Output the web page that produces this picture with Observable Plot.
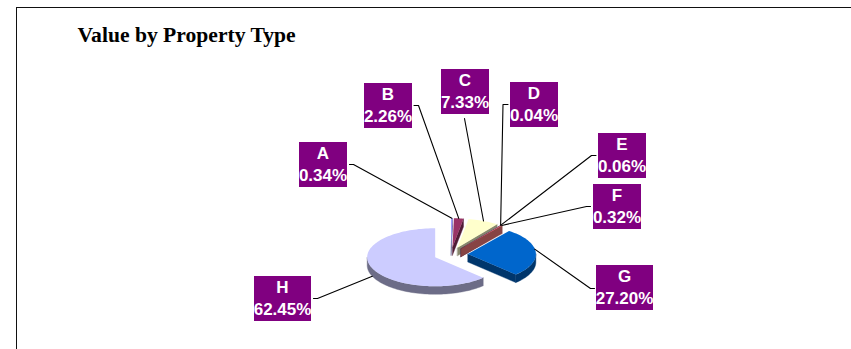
<!DOCTYPE html>
<html>
<head>
<meta charset="utf-8">
<script src="https://cdn.jsdelivr.net/npm/d3@7"></script>
<script src="https://cdn.jsdelivr.net/npm/@observablehq/plot@0.6"></script>
<style>
  html, body { margin: 0; padding: 0; background: #fff; }
  svg { display: block; }
</style>
</head>
<body>
<div id="chart"></div>
<script>
// Data
const categories = ["A", "B", "C", "D", "E", "F", "G", "H"];
const shares = [0.34, 2.26, 7.33, 0.04, 0.06, 0.32, 27.20, 62.45];
const sliceColors = ["#9999FF", "#993366", "#FFFFCC", "#CCFFFF", "#660066", "#FF8080", "#0066CC", "#CCCCFF"];

// Layout of the callouts (boxes: left, top; elbows: where the leader leaves the box)
const boxLeft = [299, 364, 441, 510, 598, 593, 596, 254];
const boxTop = [142, 83, 69, 82, 133, 184, 265, 276];
const boxWidth = [48, 48, 48, 48, 48, 48, 57, 57];
const boxHeight = 45;
const leaderStartX = [349, 413.5, 464, 507.5, 595.5, 590, 594, 313];
const leaderStartY = [164, 105, 118, 104, 155, 206, 288, 298];
const leaderElbowX = [353, 418, 464, 502.5, 591, 586, 590, 317];
const leaderElbowY = [164, 105, 118, 104, 155, 206, 288, 298];

// Pie geometry
const W = 851, H = 349;
const cx = 450.4, cy = 254, rx = 68, ry = 29, depth = 8, explode = 0.25;
const shade = 0.53;

const total = d3.sum(shares);
const rad = (a) => (a * Math.PI) / 180;
const slices = [];
let acc = 0;
categories.forEach((name, i) => {
  const start = (acc / total) * 360;
  acc += shares[i];
  const end = (acc / total) * 360;
  const mid = (start + end) / 2;
  const ax = cx + explode * rx * Math.sin(rad(mid));
  const ay = cy - explode * ry * Math.cos(rad(mid));
  slices.push({name, i, start, end, mid, ax, ay, color: sliceColors[i]});
});
const rim = (s, a, dz = 0) => ({
  x: s.ax + rx * Math.sin(rad(a)),
  y: s.ay - ry * Math.cos(rad(a)) + dz
});
const arc = (s, a0, a1, dz = 0) => {
  const n = Math.max(2, Math.ceil((a1 - a0) / 2));
  return d3.range(n + 1).map((k) => rim(s, a0 + ((a1 - a0) * k) / n, dz));
};
const darker = (c) => {
  const q = d3.rgb(c);
  return d3.rgb(q.r * shade, q.g * shade, q.b * shade).formatHex();
};
const poly = (pts, fill, strokeWidth = 0.4) =>
  Plot.line(pts, {x: "x", y: "y", fill, stroke: strokeWidth ? fill : "none", strokeWidth, curve: "linear-closed"});

const pieMarks = [];
slices.forEach((s) => {
  const wall = darker(s.color);
  const apex = {x: s.ax, y: s.ay};
  const apexLow = {x: s.ax, y: s.ay + depth};
  // radial side walls facing the viewer
  if (Math.sin(rad(s.end)) > 0.001)
    pieMarks.push(poly([apex, rim(s, s.end), rim(s, s.end, depth), apexLow], wall));
  if (Math.sin(rad(s.start)) < -0.001)
    pieMarks.push(poly([apex, rim(s, s.start), rim(s, s.start, depth), apexLow], wall));
  // outer wall on the front half of the ellipse
  const a0 = Math.max(s.start, 90), a1 = Math.min(s.end, 270);
  if (a1 > a0)
    pieMarks.push(poly([...arc(s, a0, a1), ...arc(s, a0, a1, depth).reverse()], wall));
  // top face
  pieMarks.push(poly([apex, ...arc(s, s.start, s.end)], s.color, 0));
});

const leaderMarks = slices.map((s) => {
  const front = s.mid > 135;
  const end = rim(s, s.mid, front ? depth : 0);
  const tip = s.name === "G" ? {x: end.x - 1, y: end.y - 3} : end;
  return Plot.line(
    [
      {x: leaderStartX[s.i], y: leaderStartY[s.i]},
      {x: leaderElbowX[s.i], y: leaderElbowY[s.i]},
      tip
    ],
    {x: "x", y: "y", stroke: "#000", strokeWidth: 1.1}
  );
});

const boxes = slices.map((s) => ({
  x1: boxLeft[s.i],
  x2: boxLeft[s.i] + boxWidth[s.i],
  y1: boxTop[s.i],
  y2: boxTop[s.i] + boxHeight,
  label: `${s.name}\n${shares[s.i].toFixed(2)}%`
}));

const chart = Plot.plot({
  width: W,
  height: H,
  margin: 0,
  x: {domain: [0, W], range: [0, W], axis: null},
  y: {domain: [0, H], range: [0, H], axis: null},
  style: {background: "#fff"},
  marks: [
    Plot.ruleY([7], {x1: 16.5, x2: W, stroke: "#111", strokeWidth: 1}),
    Plot.ruleX([16], {y1: 7, y2: H, stroke: "#111", strokeWidth: 1}),
    Plot.text(["Value by Property Type"], {
      x: 77, y: 35, textAnchor: "start",
      fontFamily: "Liberation Serif", fontWeight: "bold", fontSize: 21.6, fill: "#000"
    }),
    ...pieMarks,
    ...leaderMarks,
    Plot.rect(boxes, {x1: "x1", x2: "x2", y1: "y1", y2: "y2", fill: "#800080"}),
    Plot.text(boxes, {
      x: (d) => (d.x1 + d.x2) / 2 - 0.5,
      y: (d) => (d.y1 + d.y2) / 2 - 2.5,
      text: "label",
      lineHeight: 1.3,
      fontFamily: "Liberation Sans", fontWeight: "bold", fontSize: 17, fill: "#fff"
    })
  ]
});
document.getElementById("chart").append(chart);
</script>
</body>
</html>
